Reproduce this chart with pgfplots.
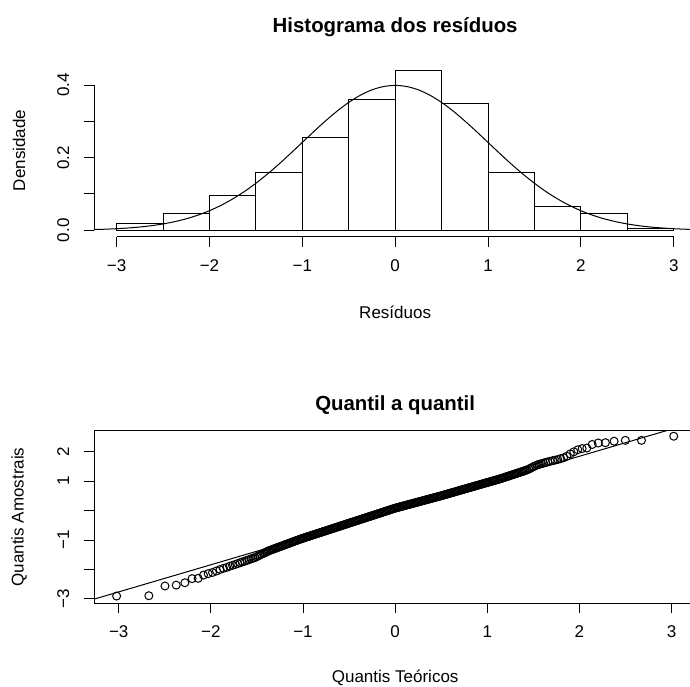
\documentclass[border=0pt]{standalone}
\usepackage{fontspec}
\setmainfont{Liberation Sans}
\usepackage{pgfplots}
\pgfplotsset{compat=1.18}
\begin{document}
\begin{tikzpicture}
\useasboundingbox (0,0) rectangle (345pt,343pt);
\pgfplotsset{
  every axis title shift=0pt,
  rstyle/.style={
    scale only axis, width=300.85pt, height=86.3pt,
    anchor=south west,
    tick align=outside, major tick length=5pt,
    xtick pos=left, ytick pos=left,
    major tick style={black, line width=0.5pt},
    tick label style={font=\fontsize{8.5}{10}\selectfont},
    label style={font=\fontsize{8.5}{10}\selectfont},
    title style={font=\bfseries\fontsize{10.2}{12}\selectfont, anchor=center},
    xticklabel style={anchor=base, yshift=-12.3pt},
    yticklabel style={xshift=-10.5pt, rotate=90, anchor=center},
    ylabel style={at={(axis description cs:-0.125,0.5)}, anchor=center},
    axis line style={line width=0.5pt, black},
  }
}
% ---------- Histogram ----------
\begin{axis}[rstyle, at={(47.15pt,224.65pt)},
  xmin=-3.24, xmax=3.24, ymin=-0.0176, ymax=0.4576,
  axis line style={draw=none}, clip=false,
  xtick={-3,-2,-1,0,1,2,3}, xticklabels={−3,−2,−1,0,1,2,3},
  ytick={0,0.1,0.2,0.3,0.4}, yticklabels={0.0,,0.2,,0.4},
  xlabel={Resíduos}, ylabel={Densidade},
  xlabel style={at={(axis description cs:0.5,-0.436)}, anchor=center},
  title={Histograma dos resíduos},
  title style={at={(axis description cs:0.5,1.215)}},
]
\addplot[ybar interval, draw=black, fill=white, line width=0.5pt] coordinates {
(-3,0.020) (-2.5,0.045) (-2,0.095) (-1.5,0.160) (-1,0.255) (-0.5,0.360)
(0,0.440) (0.5,0.350) (1,0.160) (1.5,0.065) (2,0.045) (2.5,0.005) (3,0)};
\addplot[black, line width=0.5pt, smooth] coordinates {
(-3.24,0.0021) (-3.125,0.0030) (-3,0.0044) (-2.875,0.0064) (-2.75,0.0091)
(-2.625,0.0127) (-2.5,0.0175) (-2.375,0.0238) (-2.25,0.0317) (-2.125,0.0417)
(-2,0.0540) (-1.875,0.0688) (-1.75,0.0863) (-1.625,0.1065) (-1.5,0.1295)
(-1.375,0.1550) (-1.25,0.1826) (-1.125,0.2119) (-1,0.2420) (-0.875,0.2721)
(-0.75,0.3011) (-0.625,0.3282) (-0.5,0.3521) (-0.375,0.3719) (-0.25,0.3867)
(-0.125,0.3958) (0,0.3989)
(0.125,0.3958) (0.25,0.3867) (0.375,0.3719) (0.5,0.3521) (0.625,0.3282)
(0.75,0.3011) (0.875,0.2721) (1,0.2420) (1.125,0.2119) (1.25,0.1826)
(1.375,0.1550) (1.5,0.1295) (1.625,0.1065) (1.75,0.0863) (1.875,0.0688)
(2,0.0540) (2.125,0.0417) (2.25,0.0317) (2.375,0.0238) (2.5,0.0175)
(2.625,0.0127) (2.75,0.0091) (2.875,0.0064) (3,0.0044) (3.125,0.0030) (3.24,0.0021)};
\draw[line width=0.5pt] (axis cs:-3,-0.0176) -- (axis cs:3,-0.0176);
\draw[line width=0.5pt] (axis cs:-3.24,0) -- (axis cs:-3.24,0.4);
\end{axis}
% ---------- QQ plot ----------
\begin{axis}[rstyle, at={(47.15pt,41.35pt)},
  xmin=-3.265, xmax=3.265, ymin=-3.147, ymax=2.707,
  xtick={-3,-2,-1,0,1,2,3}, xticklabels={−3,−2,−1,0,1,2,3},
  ytick={-3,-2,-1,0,1,2}, yticklabels={−3,,−1,,1,2},
  xlabel={Quantis Teóricos}, ylabel={Quantis Amostrais},
  xlabel style={at={(axis description cs:0.5,-0.433)}, anchor=center},
  title={Quantil a quantil},
  title style={at={(axis description cs:0.5,1.145)}},
]
\addplot[only marks, mark=o, mark size=2pt, mark options={line width=0.5pt, black}] table {
x y
-3.023 -2.90
-2.673 -2.89
-2.498 -2.56
-2.376 -2.53
-2.282 -2.45
-2.204 -2.31
-2.138 -2.30
-2.080 -2.19
-2.029 -2.14
-1.982 -2.10
-1.939 -2.05
-1.900 -2.00
-1.863 -1.96
-1.828 -1.93
-1.796 -1.89
-1.765 -1.86
-1.736 -1.83
-1.709 -1.80
-1.682 -1.77
-1.657 -1.74
-1.633 -1.72
-1.610 -1.69
-1.588 -1.67
-1.565 -1.64
-1.545 -1.62
-1.524 -1.60
-1.504 -1.57
-1.485 -1.54
-1.466 -1.51
-1.449 -1.48
-1.425 -1.45
-1.400 -1.41
-1.375 -1.37
-1.350 -1.341
-1.325 -1.312
-1.300 -1.283
-1.275 -1.254
-1.250 -1.225
-1.225 -1.196
-1.200 -1.167
-1.175 -1.138
-1.150 -1.109
-1.125 -1.080
-1.100 -1.051
-1.075 -1.022
-1.050 -0.993
-1.025 -0.965
-1.000 -0.939
-0.975 -0.914
-0.950 -0.888
-0.925 -0.863
-0.900 -0.837
-0.875 -0.812
-0.850 -0.786
-0.825 -0.761
-0.800 -0.735
-0.775 -0.710
-0.750 -0.684
-0.725 -0.658
-0.700 -0.633
-0.675 -0.607
-0.650 -0.582
-0.625 -0.556
-0.600 -0.531
-0.575 -0.505
-0.550 -0.480
-0.525 -0.454
-0.500 -0.429
-0.475 -0.403
-0.450 -0.378
-0.425 -0.353
-0.400 -0.327
-0.375 -0.302
-0.350 -0.276
-0.325 -0.251
-0.300 -0.225
-0.275 -0.200
-0.250 -0.175
-0.225 -0.149
-0.200 -0.124
-0.175 -0.098
-0.150 -0.073
-0.125 -0.047
-0.100 -0.022
-0.075 0.004
-0.050 0.029
-0.025 0.055
0.000 0.080
0.025 0.101
0.050 0.122
0.075 0.143
0.100 0.164
0.125 0.185
0.150 0.206
0.175 0.227
0.200 0.248
0.225 0.269
0.250 0.290
0.275 0.311
0.300 0.332
0.325 0.353
0.350 0.374
0.375 0.395
0.400 0.416
0.425 0.437
0.450 0.458
0.475 0.479
0.500 0.500
0.525 0.523
0.550 0.545
0.575 0.568
0.600 0.590
0.625 0.613
0.650 0.635
0.675 0.658
0.700 0.680
0.725 0.703
0.750 0.725
0.775 0.748
0.800 0.770
0.825 0.793
0.850 0.815
0.875 0.838
0.900 0.860
0.925 0.883
0.950 0.905
0.975 0.928
1.000 0.950
1.025 0.972
1.050 0.994
1.075 1.017
1.100 1.039
1.125 1.061
1.150 1.086
1.175 1.111
1.200 1.137
1.225 1.163
1.250 1.189
1.275 1.215
1.300 1.241
1.325 1.267
1.350 1.292
1.375 1.318
1.400 1.344
1.425 1.370
1.449 1.40
1.466 1.43
1.485 1.46
1.504 1.49
1.524 1.52
1.545 1.55
1.565 1.57
1.588 1.59
1.610 1.61
1.633 1.63
1.657 1.65
1.682 1.67
1.709 1.69
1.736 1.71
1.765 1.73
1.796 1.76
1.828 1.79
1.863 1.84
1.900 1.92
1.939 1.99
1.982 2.06
2.029 2.10
2.080 2.12
2.138 2.24
2.204 2.29
2.282 2.30
2.376 2.35
2.498 2.38
2.673 2.38
3.023 2.52
-1.4125 -1.430
-1.3875 -1.390
-1.3625 -1.356
-1.3375 -1.327
-1.3125 -1.298
-1.2875 -1.269
-1.2625 -1.240
-1.2375 -1.211
-1.2125 -1.182
-1.1875 -1.153
-1.1625 -1.124
-1.1375 -1.095
-1.1125 -1.066
-1.0875 -1.037
-1.0625 -1.008
-1.0375 -0.979
-1.0125 -0.952
-0.9875 -0.927
-0.9625 -0.901
-0.9375 -0.876
-0.9125 -0.850
-0.8875 -0.825
-0.8625 -0.799
-0.8375 -0.774
-0.8125 -0.748
-0.7875 -0.723
-0.7625 -0.697
-0.7375 -0.671
-0.7125 -0.646
-0.6875 -0.620
-0.6625 -0.595
-0.6375 -0.569
-0.6125 -0.544
-0.5875 -0.518
-0.5625 -0.493
-0.5375 -0.467
-0.5125 -0.442
-0.4875 -0.416
-0.4625 -0.391
-0.4375 -0.366
-0.4125 -0.340
-0.3875 -0.315
-0.3625 -0.289
-0.3375 -0.264
-0.3125 -0.238
-0.2875 -0.213
-0.2625 -0.188
-0.2375 -0.162
-0.2125 -0.137
-0.1875 -0.111
-0.1625 -0.086
-0.1375 -0.060
-0.1125 -0.035
-0.0875 -0.009
-0.0625 0.017
-0.0375 0.042
-0.0125 0.068
0.0125 0.091
0.0375 0.112
0.0625 0.133
0.0875 0.154
0.1125 0.175
0.1375 0.196
0.1625 0.217
0.1875 0.238
0.2125 0.259
0.2375 0.280
0.2625 0.301
0.2875 0.322
0.3125 0.343
0.3375 0.364
0.3625 0.385
0.3875 0.406
0.4125 0.427
0.4375 0.448
0.4625 0.469
0.4875 0.490
0.5125 0.512
0.5375 0.534
0.5625 0.557
0.5875 0.579
0.6125 0.602
0.6375 0.624
0.6625 0.647
0.6875 0.669
0.7125 0.692
0.7375 0.714
0.7625 0.737
0.7875 0.759
0.8125 0.782
0.8375 0.804
0.8625 0.827
0.8875 0.849
0.9125 0.872
0.9375 0.894
0.9625 0.917
0.9875 0.939
1.0125 0.961
1.0375 0.983
1.0625 1.006
1.0875 1.028
1.1125 1.050
1.1375 1.074
1.1625 1.099
1.1875 1.124
1.2125 1.150
1.2375 1.176
1.2625 1.202
1.2875 1.228
1.3125 1.254
1.3375 1.280
1.3625 1.305
1.3875 1.331
1.4125 1.357
};
\addplot[black, line width=0.5pt] coordinates {(-3.4,-3.128) (3.4,3.128)};
\end{axis}
\end{tikzpicture}
\end{document}
